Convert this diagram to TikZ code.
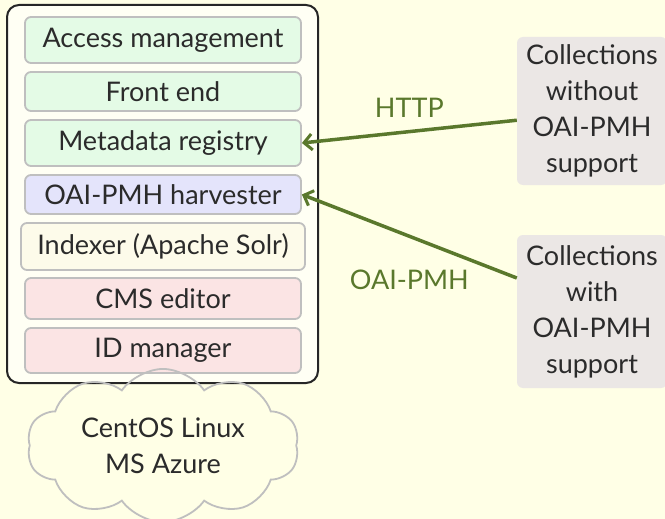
\documentclass[tikz,border=0pt]{standalone}
\usepackage{fontspec}
\setmainfont{Lato}
\usepackage{tikz}
\usetikzlibrary{arrows.meta, shapes.symbols}

\definecolor{pagebg}{HTML}{FFFFE6}
\definecolor{serverbg}{HTML}{FFFFF4}
\definecolor{mint}{HTML}{E4FBE6}
\definecolor{lavender}{HTML}{E4E4FB}
\definecolor{cream}{HTML}{FDFBEA}
\definecolor{rose}{HTML}{FBE4E4}
\definecolor{stone}{HTML}{EBE7E5}
\definecolor{olive}{HTML}{5A782C}
\definecolor{ink}{HTML}{2B2B2B}

\begin{document}
\begin{tikzpicture}[x=1pt, y=-1pt,
    every node/.style={text=ink, font=\fontsize{27}{36}\selectfont},
    module/.style={draw=black!25, line width=1.8pt, rounded corners=6pt,
                   minimum width=276pt, inner sep=0pt},
    source/.style={fill=stone, rounded corners=6pt, align=center,
                   minimum width=150pt, inner sep=0pt},
    link/.style={draw=olive, line width=3.5pt, -{Straight Barb[length=8pt, width=16pt, line width=3pt]}},
    proto/.style={text=olive, inner sep=0pt}]
	\fill[pagebg] (0,0) rectangle (665,519);
	\useasboundingbox (0,0) rectangle (665,519);

	% server stack
	\draw[line width=2pt, draw=black!85, fill=serverbg, rounded corners=12pt] (7,5) rectangle (318,383);
	\node[module, fill=mint, minimum height=46pt] (access) at (163,40) {Access management};
	\node[module, fill=mint, minimum height=39pt] (frontend) at (163,91.5) {Front end};
	\node[module, fill=mint, minimum height=46pt] (registry) at (163,143) {Metadata registry};
	\node[module, fill=lavender, minimum height=39pt] (harvester) at (163,194.5) {OAI-PMH harvester};
	\node[module, fill=cream, minimum height=47pt, minimum width=284pt] (indexer) at (163,246.5) {Indexer (Apache Solr)};
	\node[module, fill=rose, minimum height=41pt] (cms) at (163,298.5) {CMS editor};
	\node[module, fill=rose, minimum height=45pt] (idman) at (163,350.5) {ID manager};

	\node[cloud, draw=black!25, line width=1.8pt, cloud puffs=10, cloud puff arc=110, aspect=1.9,
	      minimum width=272pt, minimum height=143pt, align=center, inner sep=0pt] (cloud) at (163,445.5)
	      {CentOS Linux\\MS Azure};

	% outside collections
	\node[source, minimum height=148pt] (nooai) at (592,111) {Collections\\without\\OAI-PMH\\support};
	\node[source, minimum height=153pt] (withoai) at (592,311.5) {Collections\\with\\OAI-PMH\\support};

	\draw[link] (nooai.187.6) -- node[proto, above=12pt] (http) {HTTP} (registry.east);
	\draw[link] (withoai.156.6) -- node[proto, below=32pt] (oai) {OAI-PMH} (harvester.east);
\end{tikzpicture}
\end{document}
